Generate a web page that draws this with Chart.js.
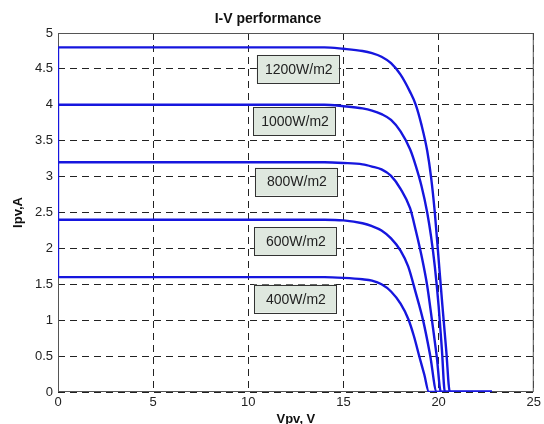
<!DOCTYPE html>
<html>
<head>
<meta charset="utf-8">
<script src="https://cdn.jsdelivr.net/npm/chart.js@4"></script>
<style>
  html, body { margin: 0; padding: 0; background: #fff; }
  #wrap { width: 544px; height: 424px; }
</style>
</head>
<body>
<div id="wrap"><canvas id="plots"></canvas></div>
<script>
// irradiance levels (one curve each)
var levels = ["1200W/m2", "1000W/m2", "800W/m2", "600W/m2", "400W/m2"];

// voltage (V) and current (A)
var v1200 = [0, 14, 15, 16, 16.5, 17, 17.5, 18, 18.5, 18.8, 19.1, 19.4, 19.6, 19.8, 20.0, 20.2, 20.4, 20.59, 22.8];
var i1200 = [4.8, 4.8, 4.78, 4.75, 4.72, 4.67, 4.58, 4.42, 4.18, 4.0, 3.72, 3.36, 3.0, 2.5, 1.85, 1.2, 0.58, 0, 0];

var v1000 = [0, 14, 15, 16, 16.5, 17, 17.5, 18, 18.5, 18.8, 19.1, 19.4, 19.6, 19.8, 20.0, 20.17, 20.33, 22.8];
var i1000 = [4.0, 4.0, 3.98, 3.95, 3.92, 3.87, 3.79, 3.63, 3.38, 3.15, 2.87, 2.5, 2.17, 1.75, 1.2, 0.6, 0, 0];

var v800 = [0, 14, 15, 16, 16.5, 17, 17.5, 18, 18.5, 18.8, 19.1, 19.4, 19.65, 19.9, 20.12, 22.8];
var i800 = [3.2, 3.2, 3.19, 3.17, 3.14, 3.1, 3.01, 2.83, 2.56, 2.25, 1.9, 1.48, 1.0, 0.5, 0, 0];

var v600 = [0, 14, 15, 16, 16.5, 17, 17.5, 18, 18.4, 18.8, 19.2, 19.55, 19.9, 22.8];
var i600 = [2.4, 2.4, 2.39, 2.35, 2.31, 2.25, 2.14, 1.97, 1.75, 1.38, 0.98, 0.52, 0, 0];

var v400 = [0, 14, 15, 16, 16.5, 17, 17.5, 18, 18.4, 18.7, 19.0, 19.25, 19.49, 22.8];
var i400 = [1.6, 1.6, 1.59, 1.57, 1.55, 1.5, 1.4, 1.23, 1.02, 0.78, 0.48, 0.24, 0, 0];

// short vertical trace on the V=0 axis
var vEdge = [0, 0];
var iEdge = [1.6, 4.8];

// tick labels
var xTicks = ["0", "5", "10", "15", "20", "25"];
var yTicks = ["0", "0.5", "1", "1.5", "2", "2.5", "3", "3.5", "4", "4.5", "5"];

function pts(vs, is) {
    return vs.map(function (v, k) { return { x: v, y: is[k] }; });
}

var curves = [[v1200, i1200], [v1000, i1000], [v800, i800], [v600, i600], [v400, i400], [vEdge, iEdge]];
var blue = 'rgb(22, 22, 222)';

var datasets = curves.map(function (c, k) {
    return {
        label: levels[k] || 'edge',
        data: pts(c[0], c[1]),
        borderColor: blue,
        borderWidth: 2.4,
        pointRadius: 0,
        fill: false,
        cubicInterpolationMode: 'monotone'
    };
});

// solid frame round the plot area
var frame = {
    id: 'frame',
    beforeDatasetsDraw: function (chart) {
        var a = chart.chartArea, ctx = chart.ctx;
        ctx.save();
        ctx.strokeStyle = '#555';
        ctx.lineWidth = 1;
        ctx.strokeRect(a.left + 0.5, a.top + 0.5, a.right - a.left - 1, a.bottom - a.top - 1);
        ctx.restore();
    }
};

// boxed text labels next to each curve
var boxes = {
    id: 'boxes',
    afterDatasetsDraw: function (chart, args, opts) {
        var ctx = chart.ctx, xs = chart.scales.x, ys = chart.scales.y;
        ctx.save();
        ctx.font = '14px "Liberation Sans", Arial, sans-serif';
        ctx.textAlign = 'center';
        ctx.textBaseline = 'middle';
        opts.items.forEach(function (it, k) {
            var cx = xs.getPixelForValue(it.x), cy = ys.getPixelForValue(it.y);
            var w = 82, h = 28;
            ctx.fillStyle = '#dfe8df';
            ctx.fillRect(cx - w / 2, cy - h / 2, w, h);
            ctx.strokeStyle = '#333';
            ctx.lineWidth = 1;
            ctx.strokeRect(Math.round(cx - w / 2) + 0.5, Math.round(cy - h / 2) + 0.5, w, h);
            ctx.fillStyle = '#222';
            ctx.fillText(levels[k], cx + 1, cy + 1);
        });
        ctx.restore();
    }
};

var font = { family: '"Liberation Sans", Arial, sans-serif', size: 13 };

new Chart(document.getElementById("plots"), {
    type: 'line',
    data: { datasets: datasets },
    options: {
        responsive: true,
        maintainAspectRatio: false,
        animation: false,
        layout: { padding: { left: 0, right: 8, top: 0, bottom: 0 } },
        plugins: {
            legend: { display: false },
            tooltip: { enabled: false },
            title: {
                display: true,
                text: 'I-V performance',
                color: '#111',
                font: { family: font.family, size: 14, weight: 'bold' },
                padding: { top: 11, bottom: 5.2 }
            },
            boxes: {
                items: [
                    { x: 12.6, y: 4.5 },
                    { x: 12.4, y: 3.77 },
                    { x: 12.5, y: 2.93 },
                    { x: 12.45, y: 2.1 },
                    { x: 12.45, y: 1.3 }
                ]
            }
        },
        scales: {
            x: {
                type: 'linear',
                min: 0, max: 25,
                afterFit: function (s) { s.height = 32; },
                ticks: {
                    stepSize: 5,
                    color: '#222',
                    font: font,
                    padding: 3,
                    maxRotation: 0,
                    callback: function (v) { return xTicks[v / 5]; }
                },
                grid: { color: '#222', lineWidth: 1, drawTicks: false },
                border: { display: false, dash: [7, 5] },
                title: {
                    display: true,
                    text: 'Vpv, V',
                    color: '#111',
                    font: { family: font.family, size: 13, weight: 'bold' },
                    padding: { top: 0, bottom: -3 }
                }
            },
            y: {
                min: 0, max: 5,
                afterFit: function (s) { s.width = 58; },
                ticks: {
                    stepSize: 0.5,
                    color: '#222',
                    font: font,
                    padding: 5,
                    callback: function (v) { return yTicks[Math.round(v * 2)]; }
                },
                grid: { color: '#222', lineWidth: 1, drawTicks: false },
                border: { display: false, dash: [7, 5] },
                title: {
                    display: true,
                    text: 'Ipv,A',
                    color: '#111',
                    font: { family: font.family, size: 13, weight: 'bold' },
                    padding: { top: 11, bottom: 0 }
                }
            }
        }
    },
    plugins: [frame, boxes]
});
</script>
</body>
</html>
